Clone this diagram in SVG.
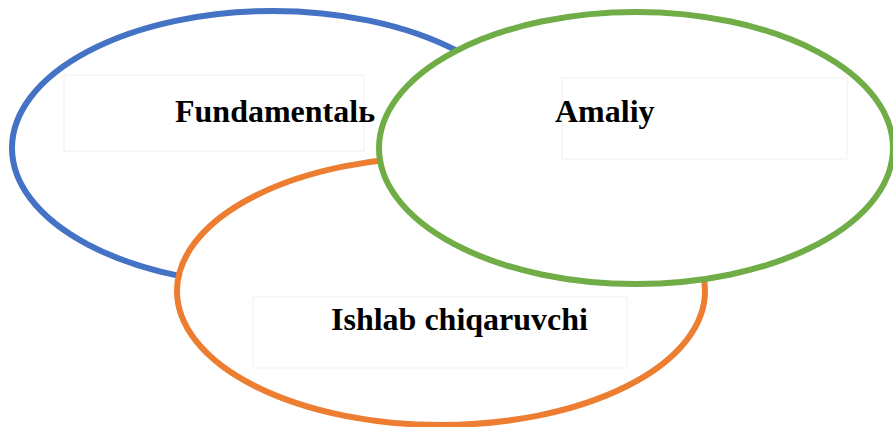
<svg xmlns="http://www.w3.org/2000/svg" width="893" height="427" viewBox="0 0 893 427">
<style>
.ring{fill:#fff;stroke-width:6}
.box{fill:#fff;stroke:#f0f0f0;stroke-width:1}
.lbl{font-family:"Liberation Serif","Times New Roman",serif;font-weight:bold;font-size:32px;fill:#000}
</style>
<rect width="893" height="427" fill="#fff"/>
<g id="fundamental">
<ellipse class="ring" cx="273" cy="148" rx="261" ry="137" stroke="#4472C4"/>
<rect class="box" x="64" y="75" width="300" height="76"/>
<text class="lbl" x="175" y="122">Fundamentalь</text>
</g>
<g id="ishlab">
<ellipse class="ring" cx="441" cy="291" rx="264" ry="134" stroke="#ED7D31"/>
<rect class="box" x="253" y="297" width="374" height="71"/>
<text class="lbl" x="331" y="330">Ishlab chiqaruvchi</text>
</g>
<g id="amaliy">
<ellipse class="ring" cx="636" cy="148" rx="257" ry="136" stroke="#70AD47"/>
<rect class="box" x="562" y="78" width="285" height="81"/>
<text class="lbl" x="555" y="122">Amaliy</text>
</g>
</svg>
